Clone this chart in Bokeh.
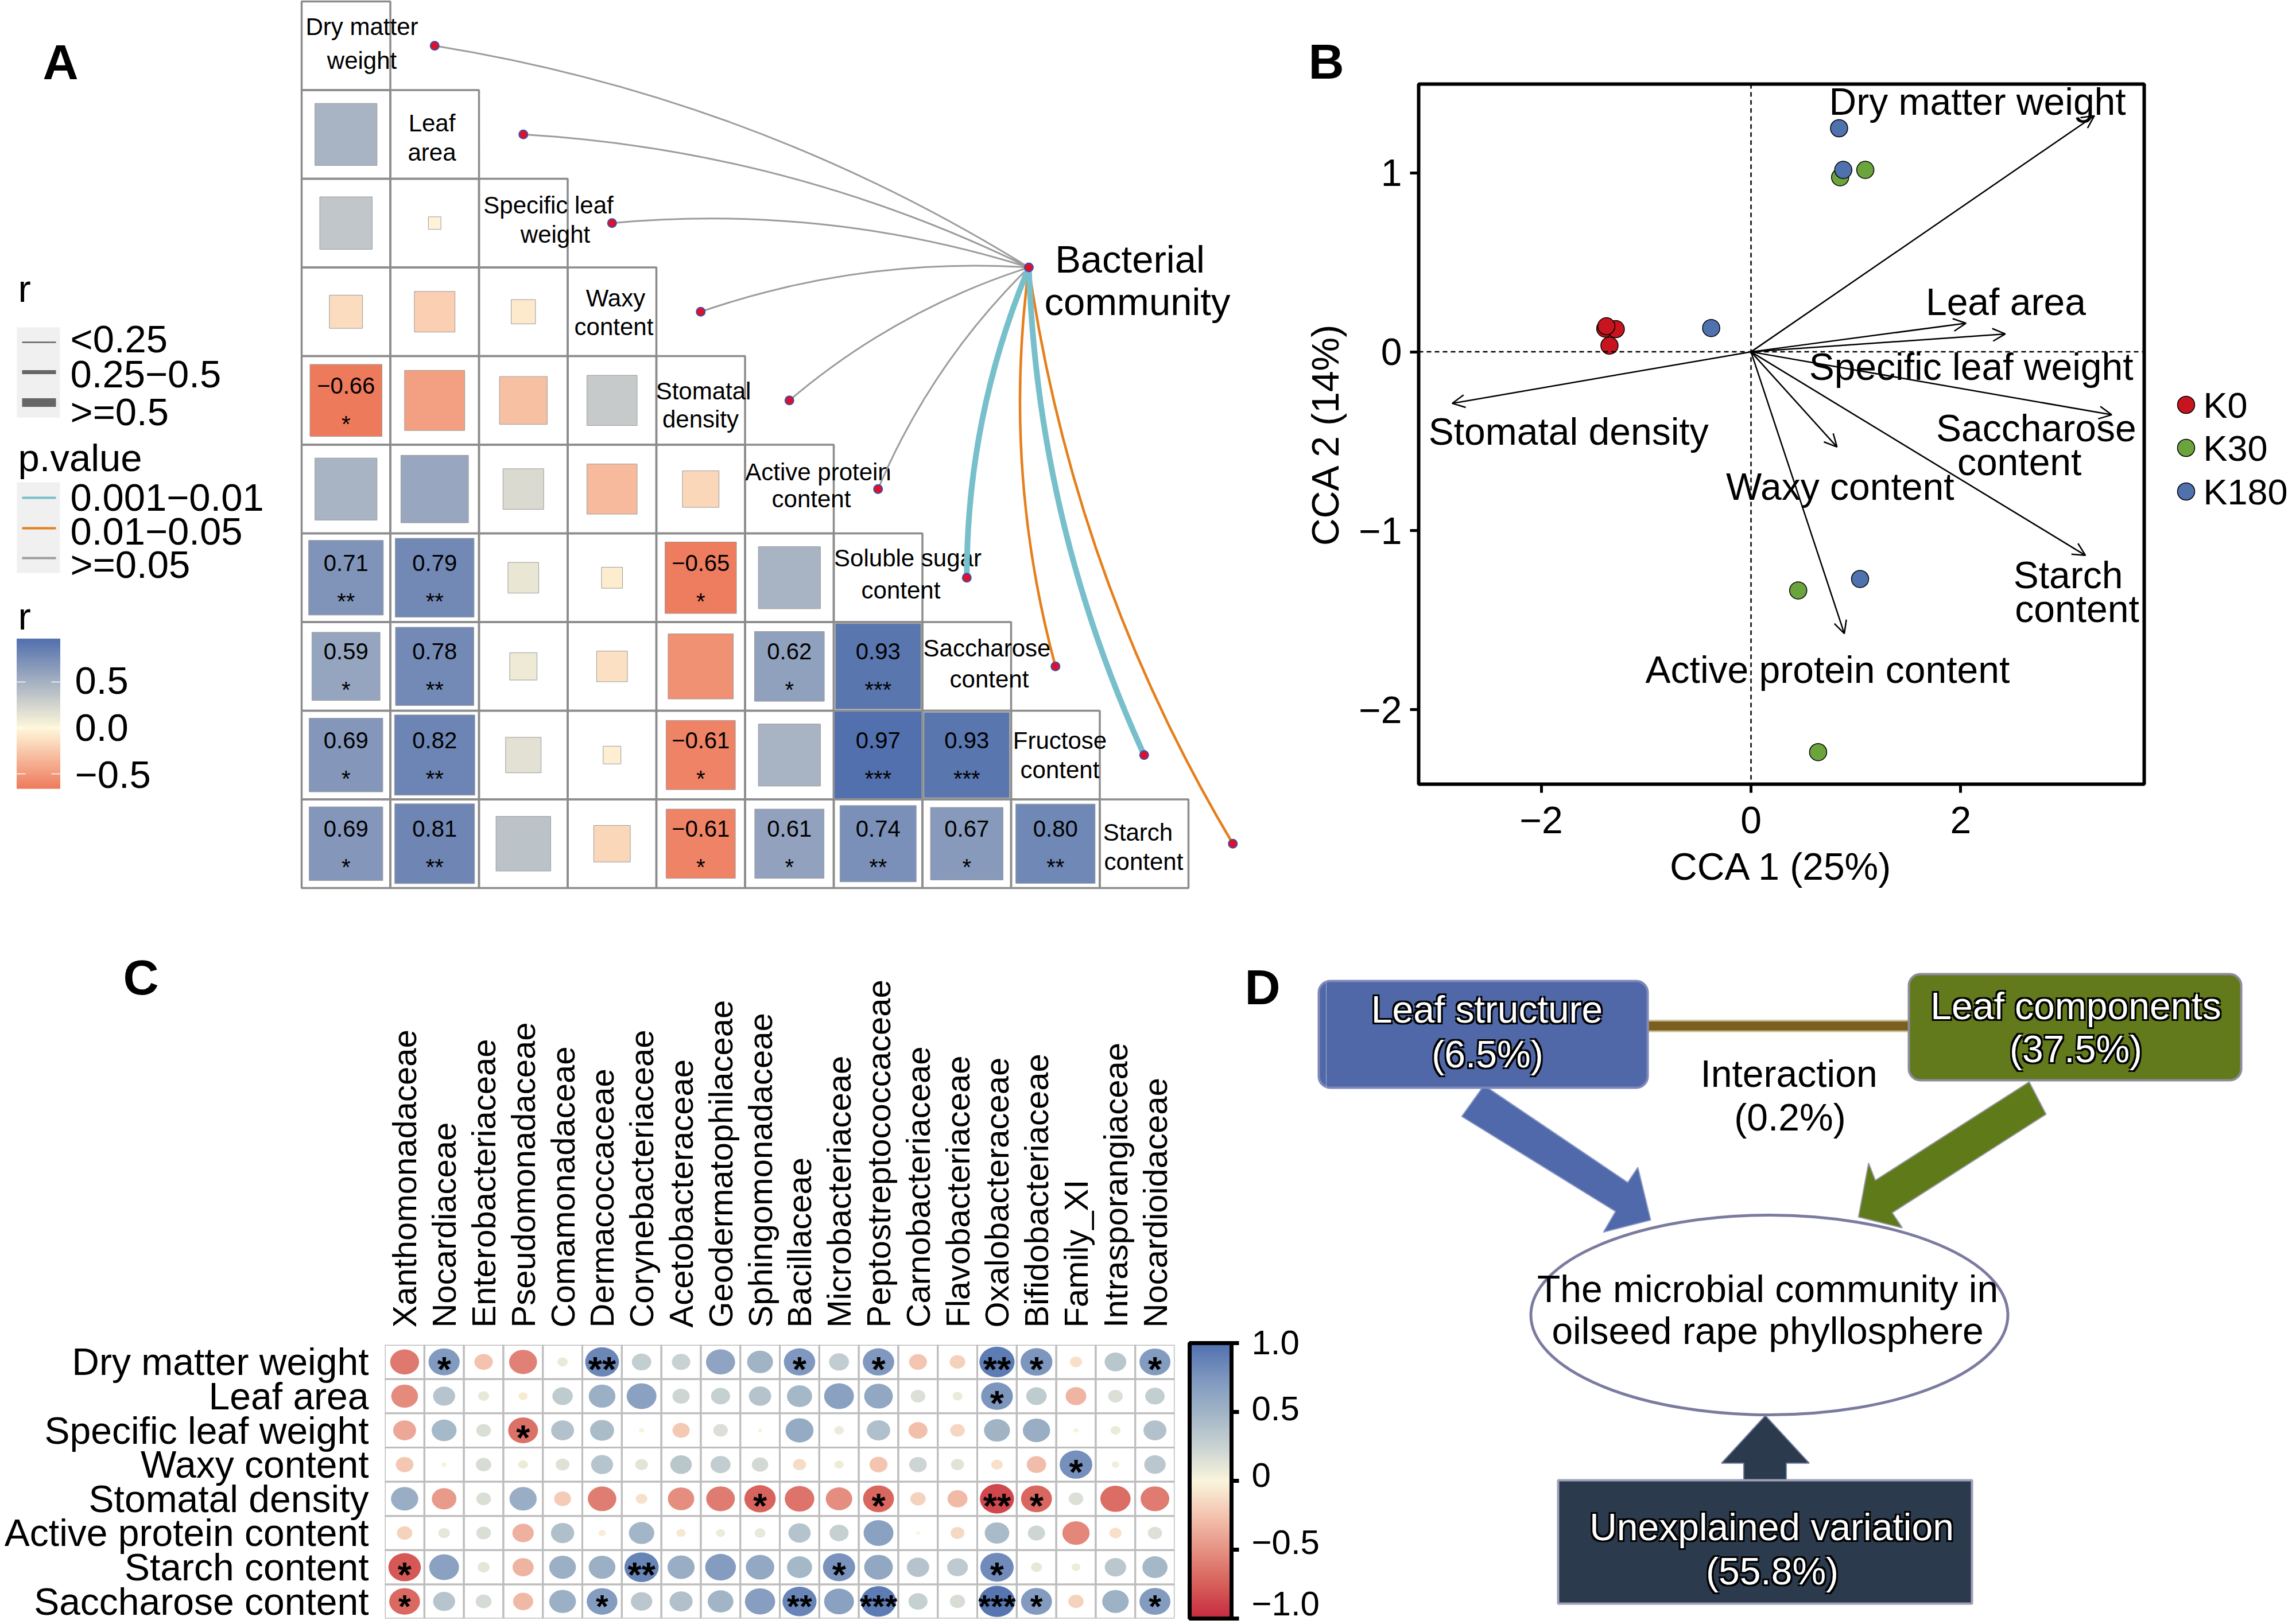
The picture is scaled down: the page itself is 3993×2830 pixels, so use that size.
import numpy as np
from bokeh.core.properties import value
from bokeh.embed import file_html
from bokeh.layouts import column, row
from bokeh.models import (Arrow, ColumnDataSource, FactorRange, FixedTicker, Label,
                          OpenHead, Range1d, Span)
from bokeh.plotting import figure
from bokeh.resources import INLINE

FONT = value("Liberation Sans")

# ---------------- Panel A data ----------------
trait_lines = [["Dry matter", "weight"], ["Leaf", "area"], ["Specific leaf", "weight"], ["Waxy", "content"],
               ["Stomatal", "density"], ["Active protein", "content"], ["Soluble sugar", "content"],
               ["Saccharose", "content"], ["Fructose", "content"], ["Starch", "content"]]
r_leaf = [0.49]
r_slw = [0.35, -0.02]
r_waxy = [-0.14, -0.21, -0.075]
r_stomatal = [-0.66, -0.46, -0.29, 0.32]
r_active = [0.49, 0.58, 0.21, -0.32, -0.17]
r_soluble = [0.71, 0.79, 0.12, -0.056, -0.65, 0.49]
r_saccharose = [0.59, 0.78, 0.095, -0.12, -0.54, 0.62, 0.93]
r_fructose = [0.69, 0.82, 0.16, -0.04, -0.61, 0.49, 0.97, 0.93]
r_starch = [0.69, 0.81, 0.38, -0.17, -0.61, 0.61, 0.74, 0.67, 0.80]
r_matrix = [[], r_leaf, r_slw, r_waxy, r_stomatal, r_active, r_soluble, r_saccharose, r_fructose, r_starch]
sig_stars = {(4, 0): "*", (6, 0): "**", (6, 1): "**", (6, 4): "*", (7, 0): "*", (7, 1): "**", (7, 5): "*",
             (7, 6): "***", (8, 0): "*", (8, 1): "**", (8, 4): "*", (8, 6): "***", (8, 7): "***", (9, 0): "*",
             (9, 1): "**", (9, 4): "*", (9, 5): "*", (9, 6): "**", (9, 7): "*", (9, 8): "**"}
link_class = ["ns", "ns", "ns", "ns", "ns", "ns", "p001", "p01", "p001", "p01"]
r_legend_labels = ["<0.25", "0.25\u22120.5", ">=0.5"]
p_legend_labels = ["0.001\u22120.01", "0.01\u22120.05", ">=0.05"]
cbar_a_ticks = [0.5, 0.0, -0.5]

# ---------------- Panel B data ----------------
k0_x, k0_y = [-1.39, -1.29, -1.35, -1.38], [0.13, 0.127, 0.035, 0.143]
k30_x, k30_y = [0.85, 1.09, 0.45, 0.64], [0.976, 1.017, -1.334, -2.238]
k180_x, k180_y = [0.84, 0.88, -0.38, 1.04], [1.25, 1.017, 0.133, -1.27]
arrow_x = [3.275, 2.05, 2.425, 3.44, 3.19, 0.82, 0.89, -2.85]
arrow_y = [1.32, 0.16, 0.10, -0.352, -1.138, -0.532, -1.575, -0.288]
cca_labels = ["Dry matter weight", "Leaf area", "Specific leaf weight", "Saccharose", "content",
              "Stomatal density", "Waxy content", "Starch", "content", "Active protein content"]
cca_label_x = [2.16, 2.43, 2.10, 2.72, 2.56, -1.74, 0.85, 3.025, 3.11, 0.73]
cca_label_y = [1.40, 0.28, -0.082, -0.425, -0.615, -0.444, -0.754, -1.249, -1.436, -1.778]
group_names = ["K0", "K30", "K180"]

# ---------------- Panel C data ----------------
families = ["Xanthomonadaceae", "Nocardiaceae", "Enterobacteriaceae", "Pseudomonadaceae", "Comamonadaceae",
            "Dermacoccaceae", "Corynebacteriaceae", "Acetobacteraceae", "Geodermatophilaceae", "Sphingomonadaceae",
            "Bacillaceae", "Microbacteriaceae", "Peptostreptococcaceae", "Carnobacteriaceae", "Flavobacteriaceae",
            "Oxalobacteraceae", "Bifidobacteriaceae", "Family_XI", "Intrasporangiaceae", "Nocardioidaceae"]
traits_c = ["Dry matter weight", "Leaf area", "Specific leaf weight", "Waxy content", "Stomatal density",
            "Active protein content", "Starch content", "Saccharose content"]
c_dry = [-.62, .72, -.25, -.58, .08, .85, .28, .253, .63, .50, .73, .295, .73, -.24, -.18, .92, .75, -.11, .35, .71]
c_leaf = [-.53, .36, .09, -.06, .31, .53, .66, .22, .27, .37, .47, .66, .61, .157, .073, .75, .31, -.32, .157, .28]
c_slw = [-.39, .46, .16, -.66, .39, .43, -.02, -.22, .157, .013, .58, .068, .405, -.27, -.157, .50, .55, .02, .073, .39]
c_waxy = [-.23, -.02, .175, .07, .14, .36, .12, .345, .295, .20, -.126, .063, -.24, .23, .126, -.098, -.28, .79, .043, .34]
c_stom = [.55, -.45, .16, .55, -.21, -.60, -.10, -.516, -.61, -.73, -.65, -.52, -.71, -.174, -.295, -.86, -.71, .157, -.68, -.61]
c_active = [-.175, .10, .16, -.34, .40, -.04, .48, -.063, .063, .086, .37, .27, .66, -.011, -.14, .446, .22, -.55, -.11, .15]
c_starch = [-.78, .66, .11, -.33, .53, .53, .87, .547, .70, .60, .47, .77, .61, .37, .32, .825, .09, .058, .34, .47]
c_sacch = [-.70, .36, .185, -.30, .53, .70, .34, .396, .49, .68, .86, .66, .92, .27, .174, .96, .71, -.174, .52, .71]
c_matrix = [c_dry, c_leaf, c_slw, c_waxy, c_stom, c_active, c_starch, c_sacch]
c_stars = {(0, 1): "*", (0, 5): "**", (0, 10): "*", (0, 12): "*", (0, 15): "**", (0, 16): "*", (0, 19): "*",
           (1, 15): "*", (2, 3): "*", (3, 17): "*", (4, 9): "*", (4, 12): "*", (4, 15): "**", (4, 16): "*",
           (6, 0): "*", (6, 6): "**", (6, 11): "*", (6, 15): "*", (7, 0): "*", (7, 5): "*", (7, 10): "**",
           (7, 12): "***", (7, 15): "***", (7, 16): "*", (7, 19): "*"}
cbar_c_ticks = [1.0, 0.5, 0.0, -0.5, -1.0]
cbar_c_labels = ["1.0", "0.5", "0", "\u22120.5", "\u22121.0"]

# ---------------- Panel D data ----------------
d_text = ["Leaf structure", "(6.5%)", "Leaf components", "(37.5%)", "Unexplained variation", "(55.8%)"]
d_plain = ["Interaction", "(0.2%)", "The microbial community in", "oilseed rape phyllosphere"]


# ---------------- helpers ----------------
def hexc(c):
    return "#%02x%02x%02x" % tuple(int(round(v)) for v in c)


def ramp(v, xs, cs):
    return hexc([np.interp(v, xs, [c[i] for c in cs]) for i in range(3)])


A_STOPS_X = [-0.66, 0.0, 0.97]
A_STOPS_C = [(238, 122, 92), (255, 247, 218), (82, 112, 173)]
C_STOPS_X = [-1, -.75, -.5, -.25, 0, .25, .5, .75, 1]
C_STOPS_C = [(198, 40, 62), (215, 95, 90), (230, 145, 130), (243, 195, 175), (250, 245, 220),
             (200, 210, 210), (160, 180, 198), (125, 150, 190), (80, 112, 175)]


def color_a(v):
    return ramp(v, A_STOPS_X, A_STOPS_C)


def color_c(v):
    return ramp(v, C_STOPS_X, C_STOPS_C)


def bare(**kw):
    p = figure(output_backend="svg", toolbar_location=None, x_axis_location=None, y_axis_location=None,
               min_border=0, min_border_left=0, min_border_right=0, min_border_top=0, min_border_bottom=0,
               outline_line_color=None, **kw)
    p.grid.visible = False
    return p


def letter(p, px, py, s):
    p.add_layout(Label(x=px, y=py, x_units="canvas", y_units="canvas", text=s, text_font="Liberation Sans",
                       text_font_style="bold", text_font_size="86px", text_align="center", text_baseline="middle",
                       text_color="black"))


def title_letter(p, s, offset, standoff):
    p.title.text = s
    p.title.align = "left"
    p.title.offset = offset
    p.title.standoff = standoff
    p.title.text_font = "Liberation Sans"
    p.title.text_font_style = "bold"
    p.title.text_font_size = "86px"
    p.title.text_color = "black"


# ---------------- Panel A ----------------
CELL, OX, OY = 154.5, 525.0, 2.0
A_L, A_R, A_T, A_B = 0, 2230, 0, 1640


def ax(px):
    return (px - OX) / CELL


def ay(py):
    return (py - OY) / CELL


pa = bare(width=A_R - A_L, height=A_B - A_T, x_range=Range1d(ax(A_L), ax(A_R)), y_range=Range1d(ay(A_B), ay(A_T)))

cell_x, cell_y = [], []
for i in range(10):
    for j in range(i + 1):
        cell_x.append(j + .5)
        cell_y.append(i + .5)
pa.rect(cell_x, cell_y, width=1, height=1, fill_color=None, line_color="#8c8c8c", line_width=3.5)

sq = dict(x=[], y=[], s=[], c=[])
txt = dict(x=[], y=[], t=[])
star = dict(x=[], y=[], t=[])
for i, vals in enumerate(r_matrix):
    for j, v in enumerate(vals):
        sq["x"].append(j + .5)
        sq["y"].append(i + .5)
        sq["s"].append(abs(v) ** .5)
        sq["c"].append(color_a(v))
        if (i, j) in sig_stars:
            txt["x"].append(j + .5)
            txt["y"].append(i + .5)
            txt["t"].append(("%.2f" % v).replace("-", "\u2212"))
            star["x"].append(j + .5)
            star["y"].append(i + .5)
            star["t"].append(sig_stars[(i, j)])
pa.rect("x", "y", width="s", height="s", fill_color="c", line_color="#9a9a9a", line_width=1,
        source=ColumnDataSource(sq))
pa.text("x", "y", text="t", source=ColumnDataSource(txt), text_font=FONT, text_font_size="40px", text_align="center",
        text_baseline="middle", y_offset=-26, text_color="black")
pa.text("x", "y", text="t", source=ColumnDataSource(star), text_font=FONT, text_font_size="40px", text_align="center",
        text_baseline="middle", y_offset=41, text_color="black")

# Diagonal labels (line centres on the page)
diag_px = [(630, 630), (752, 752), (955, 967), (1072, 1069), (1225, 1220), (1425, 1413), (1581, 1569), (1719, 1723),
           (1846, 1846), (1982, 1992)]
diag_py = [(46, 105), (214, 265), (357, 408), (519, 569), (681, 730), (822, 869), (972, 1028), (1129, 1183),
           (1290, 1341), (1450, 1501)]
dt = dict(x=[], y=[], t=[])
for lines, xs, ys in zip(trait_lines, diag_px, diag_py):
    for s, x, y in zip(lines, xs, ys):
        dt["x"].append(ax(x))
        dt["y"].append(ay(y))
        dt["t"].append(s)
pa.text("x", "y", text="t", source=ColumnDataSource(dt), text_font=FONT, text_font_size="42px", text_align="center",
        text_baseline="middle", text_color="black")

# Links
src_x, src_y = 8.2, 3.0
LINK_STYLE = {"ns": ("#9c9c9c", 3), "p01": ("#e57f1c", 4.5), "p001": ("#78bfcc", 10)}
lk = dict(x0=[], y0=[], x1=[], y1=[], cx=[], cy=[], c=[], w=[])
node_x, node_y = [src_x], [src_y]
order = sorted(range(10), key=lambda k: LINK_STYLE[link_class[k]][1])
for i in order:
    tx, ty = i + 1.5, i + .5
    dx, dy = tx - src_x, ty - src_y
    lk["x0"].append(src_x)
    lk["y0"].append(src_y)
    lk["x1"].append(tx)
    lk["y1"].append(ty)
    lk["cx"].append((src_x + tx) / 2 - .1 * dy)
    lk["cy"].append((src_y + ty) / 2 + .1 * dx)
    lk["c"].append(LINK_STYLE[link_class[i]][0])
    lk["w"].append(LINK_STYLE[link_class[i]][1])
    node_x.append(tx)
    node_y.append(ty)
pa.quadratic("x0", "y0", "x1", "y1", "cx", "cy", line_color="c", line_width="w", source=ColumnDataSource(lk))
pa.scatter(node_x, node_y, size=15, fill_color="#e0102a", line_color="#3a4fa8", line_width=2)
pa.text([ax(1968), ax(1981)], [ay(451), ay(525)], text=["Bacterial", "community"], text_font=FONT,
        text_font_size="67px", text_align="center", text_baseline="middle", text_color="black")

# Legends of panel A
LEG = dict(text_font=FONT, text_font_size="67px", text_align="left", text_baseline="middle", text_color="black")
pa.text([ax(31)], [ay(502)], text=["r"], **LEG)
pa.quad(left=[ax(29)], right=[ax(104)], top=[ay(570)], bottom=[ay(727)], fill_color="#f0f0f0", line_color=None)
pa.segment([ax(38)] * 3, [ay(v) for v in (596, 648, 701)], [ax(97)] * 3, [ay(v) for v in (596, 648, 701)],
           line_color="#666666", line_width=[2.5, 7, 15])
pa.text([ax(122)] * 3, [ay(v) for v in (590, 651, 717)], text=r_legend_labels, **LEG)
pa.text([ax(31)], [ay(797)], text=["p.value"], **LEG)
pa.quad(left=[ax(29)], right=[ax(104)], top=[ay(840)], bottom=[ay(998)], fill_color="#f0f0f0", line_color=None)
pa.segment([ax(38)] * 3, [ay(v) for v in (867, 920, 972)], [ax(97)] * 3, [ay(v) for v in (867, 920, 972)],
           line_color=["#78bfcc", "#e57f1c", "#9c9c9c"], line_width=4)
pa.text([ax(122)] * 3, [ay(v) for v in (866, 925, 983)], text=p_legend_labels, **LEG)
pa.text([ax(31)], [ay(1073)], text=["r"], **LEG)
A_ZERO, A_UNIT = 1268, 160.0
edges = np.linspace(-0.66, 0.97, 131)
grad = (edges[1:] + edges[:-1]) / 2
pa.quad(left=ax(29), right=ax(104), top=[ay(A_ZERO - e * A_UNIT) for e in edges[1:]],
        bottom=[ay(A_ZERO - e * A_UNIT) for e in edges[:-1]], fill_color=[color_a(v) for v in grad],
        line_color=[color_a(v) for v in grad], line_width=1)
tick_py = [A_ZERO - t * A_UNIT for t in cbar_a_ticks]
for a, b in ((29, 44), (89, 104)):
    pa.segment([ax(a)] * 3, [ay(v) for v in tick_py], [ax(b)] * 3, [ay(v) for v in tick_py], line_color="white",
               line_width=1.5)
pa.text([ax(130)] * 3, [ay(v) for v in (1185, 1267, 1349)], text=["0.5", "0.0", "\u22120.5"], **LEG)
letter(pa, 105, 107, "A")

# ---------------- Panel B ----------------
B_L, B_R = 2230, 3743
pb = figure(width=B_R - B_L, height=1640, output_backend="svg", toolbar_location=None, x_range=Range1d(-3.17, 3.75),
            y_range=Range1d(-2.417, 1.497), min_border_left=241, min_border_right=8, min_border_top=146,
            min_border_bottom=274, x_axis_label="CCA 1 (25%)", y_axis_label="CCA 2 (14%)")
pb.grid.visible = False
pb.outline_line_color = "black"
pb.outline_line_width = 6
pb.xaxis.ticker = FixedTicker(ticks=[-2, 0, 2])
pb.yaxis.ticker = FixedTicker(ticks=[-2, -1, 0, 1])
pb.xaxis.major_label_overrides = {-2: "\u22122", 0: "0", 2: "2"}
pb.yaxis.major_label_overrides = {-2: "\u22122", -1: "\u22121", 0: "0", 1: "1"}
for a in (pb.xaxis[0], pb.yaxis[0]):
    a.axis_line_color = None
    a.major_tick_in = 0
    a.major_tick_out = 15
    a.major_tick_line_width = 5
    a.major_tick_line_color = "black"
    a.minor_tick_line_color = None
    a.major_label_text_font = "Liberation Sans"
    a.major_label_text_font_size = "66px"
    a.major_label_text_color = "black"
    a.axis_label_text_font = "Liberation Sans"
    a.axis_label_text_font_size = "66px"
    a.axis_label_text_font_style = "normal"
    a.axis_label_text_color = "black"
    a.major_label_standoff = 14
    a.axis_label_standoff = 18
pb.xaxis[0].major_label_standoff = 24
pb.yaxis[0].major_label_orientation = "horizontal"
pb.add_layout(Span(location=0, dimension="width", line_color="black", line_dash="8 6", line_width=2.5))
pb.add_layout(Span(location=0, dimension="height", line_color="black", line_dash="8 6", line_width=2.5))
arrow_src = ColumnDataSource(dict(x0=[0] * len(arrow_x), y0=[0] * len(arrow_y), x1=arrow_x, y1=arrow_y))
pb.add_layout(Arrow(end=OpenHead(size=22, line_width=2.5, line_color="black"), x_start="x0", y_start="y0",
                    x_end="x1", y_end="y1", source=arrow_src, line_width=2.5, line_color="black"))
GROUP_COLORS = ["#c8141e", "#6ba33c", "#4f71ae"]
pb.scatter(k0_x, k0_y, size=30, fill_color=GROUP_COLORS[0], line_color="black", line_width=1.5)
pb.scatter(k30_x, k30_y, size=30, fill_color=GROUP_COLORS[1], line_color="black", line_width=1.5)
pb.scatter(k180_x, k180_y, size=30, fill_color=GROUP_COLORS[2], line_color="black", line_width=1.5)
pb.text(cca_label_x, cca_label_y, text=cca_labels, text_font=FONT, text_font_size="66px", text_align="center",
        text_baseline="middle", text_color="black")
title_letter(pb, "B", -192, -16)

# Legend strip of panel B
pl = bare(width=3993 - B_R, height=1640, x_range=Range1d(B_R, 3993), y_range=Range1d(1640, 0))
LEG_Y = [705, 780, 856]
pl.scatter([3808] * 3, LEG_Y, size=30, fill_color=GROUP_COLORS, line_color="black", line_width=1.5)
pl.text([3838] * 3, LEG_Y, text=group_names, text_font=FONT, text_font_size="63px", text_align="left",
        text_baseline="middle", text_color="black")

# ---------------- Panel C ----------------
C_W, C_H = 2060, 1190
pc = figure(width=C_W, height=C_H, output_backend="svg", toolbar_location=None, x_axis_location="above",
            x_range=FactorRange(factors=families), y_range=FactorRange(factors=traits_c[::-1]), min_border_left=670,
            min_border_right=14, min_border_top=703, min_border_bottom=10, outline_line_color=None)
pc.grid.visible = False
for a in (pc.xaxis[0], pc.yaxis[0]):
    a.axis_line_color = None
    a.major_tick_line_color = None
    a.minor_tick_line_color = None
    a.major_label_text_font = "Liberation Sans"
    a.major_label_text_color = "black"
pc.xaxis[0].major_label_text_font_size = "58px"
pc.xaxis[0].major_label_orientation = "vertical"
pc.xaxis[0].major_label_standoff = 24
pc.yaxis[0].major_label_text_font_size = "66px"
pc.yaxis[0].major_label_standoff = 22
title_letter(pc, "C", -456, -93)

cx_, cy_, cr_, cc_ = [], [], [], []
sx_, sy_, st_, sz_, so_ = [], [], [], [], []
for i, vals in enumerate(c_matrix):
    for j, v in enumerate(vals):
        cx_.append(families[j])
        cy_.append(traits_c[i])
        cr_.append(.93 * abs(v) ** .5)
        cc_.append(color_c(v))
        if (i, j) in c_stars:
            last = i == len(c_matrix) - 1
            sx_.append(families[j])
            sy_.append(traits_c[i])
            st_.append(c_stars[(i, j)])
            sz_.append("56px" if last else "62px")
            so_.append(8 if last else 12)
pc.rect(cx_, cy_, width=1, height=1, fill_color=None, line_color="#bdbdbd", line_width=3)
pc.ellipse(cx_, cy_, width=cr_, height=cr_, fill_color=cc_, line_color=None)
pc.text(x=sx_, y=sy_, text=st_, text_font=FONT, text_font_style="bold", text_font_size=sz_, text_align="center",
        text_baseline="middle", y_offset=so_, text_color="black")

# ---------------- Colour bar of panel C + letter D ----------------
CB_L, CB_R, CB_T, CB_B = 2060, 2310, 1640, 2830
CB_UNIT = 240.0


def cby(py):
    return 1 + (2340 - py) / CB_UNIT


pcb = bare(width=CB_R - CB_L, height=CB_B - CB_T, x_range=Range1d(CB_L, CB_R), y_range=Range1d(cby(CB_B), cby(CB_T)))
cb_edges = np.linspace(-1, 1, 161)
cb_mid = (cb_edges[1:] + cb_edges[:-1]) / 2
pcb.quad(left=2072, right=2145, top=cb_edges[1:], bottom=cb_edges[:-1], fill_color=[color_c(v) for v in cb_mid],
         line_color=[color_c(v) for v in cb_mid], line_width=1)
pcb.quad(left=[2072], right=[2145], top=[1], bottom=[-1], fill_color=None, line_color="black", line_width=7)
pcb.segment([2145] * 5, cbar_c_ticks, [2158] * 5, cbar_c_ticks, line_color="black", line_width=7)
pcb.text([2180] * 5, cbar_c_ticks, text=cbar_c_labels, y_offset=[-1, -6, -10, -13, -26], text_font=FONT,
         text_font_size="60px", text_align="left", text_baseline="middle", text_color="black")
letter(pcb, 2199 - CB_L, 1719 - CB_T, "D")
# the left end of the first box of panel D falls in this strip
pcb.quad(left=[2297], right=[2870], top=[cby(1709)], bottom=[cby(1895)], fill_color="#5068a8", line_color="#8088b8",
         line_width=4, border_radius=20)

# ---------------- Panel D ----------------
D_L, D_R, D_T, D_B = 2310, 3993, 1640, 2830
pd_ = bare(width=D_R - D_L, height=D_B - D_T, x_range=Range1d(D_L, D_R), y_range=Range1d(D_B, D_T))


def zx(v):
    return 2150 + v * 1843 / 1568


def zy(v):
    return 1650 + v * 1180 / 1568


poly_blue = [(370, 320), (583, 545), (598, 510), (617, 632), (547, 660), (565, 612), (337, 392)]
poly_green = [(1178, 312), (950, 540), (940, 500), (925, 625), (990, 650), (975, 615), (1203, 387)]
poly_dark = [(755, 1240), (755, 1195), (722, 1195), (787, 1085), (852, 1195), (818, 1195), (818, 1240)]
pd_.quad(left=[zx(613)], right=[zx(1000)], top=[zy(170)], bottom=[zy(195)], fill_color="#7b5f1f", line_color="#c8c09a",
         line_width=3)
pd_.patch([zx(a) for a, _ in poly_blue], [zy(b) for _, b in poly_blue], fill_color="#4f69ab", line_color="#8f9bc7",
          line_width=2)
pd_.patch([zx(a) for a, _ in poly_green], [zy(b) for _, b in poly_green], fill_color="#5f7a18", line_color="#9a9aa8",
          line_width=2)
pd_.patch([zx(a) for a, _ in poly_dark], [zy(b) for _, b in poly_dark], fill_color="#2b3a4c", line_color="#6f7a9a",
          line_width=2)
pd_.quad(left=[2297], right=[2870], top=[1709], bottom=[1895], fill_color="#5068a8", line_color="#8088b8",
         line_width=4, border_radius=20)
pd_.quad(left=[3325], right=[3904], top=[1697], bottom=[1882], fill_color="#627a1b", line_color="#8c8c9c",
         line_width=4, border_radius=20)
pd_.quad(left=[2714], right=[3435], top=[2579], bottom=[2794], fill_color="#2b3a4c", line_color="#9fa0b8",
         line_width=4)
pd_.ellipse([3082], [2291], width=[831], height=[348], fill_color="white", line_color="#7b7ba0", line_width=5)
box_x = [2590, 2591, 3616, 3616, 3086, 3087]
box_y = [1758, 1836, 1752, 1827, 2660, 2737]
for ox, oy in ((-3, -3), (3, -3), (-3, 3), (3, 3)):
    pd_.text(box_x, box_y, text=d_text, x_offset=ox, y_offset=oy, text_font=FONT, text_font_size="66px",
             text_align="center", text_baseline="middle", text_color="black")
pd_.text(box_x, box_y, text=d_text, text_font=FONT, text_font_size="66px", text_align="center",
         text_baseline="middle", text_color="white")
pd_.text([3116, 3118, 3079, 3079], [1870, 1946, 2245, 2318], text=d_plain, text_font=FONT, text_font_size="66px",
         text_align="center", text_baseline="middle", text_color="black")

# each figure gets its own box so that frames are not aligned across a row
layout = column(row(column(pa), column(pb), column(pl)), row(column(pc), column(pcb), column(pd_)))
open("out.html", "w").write(file_html(layout, INLINE))
